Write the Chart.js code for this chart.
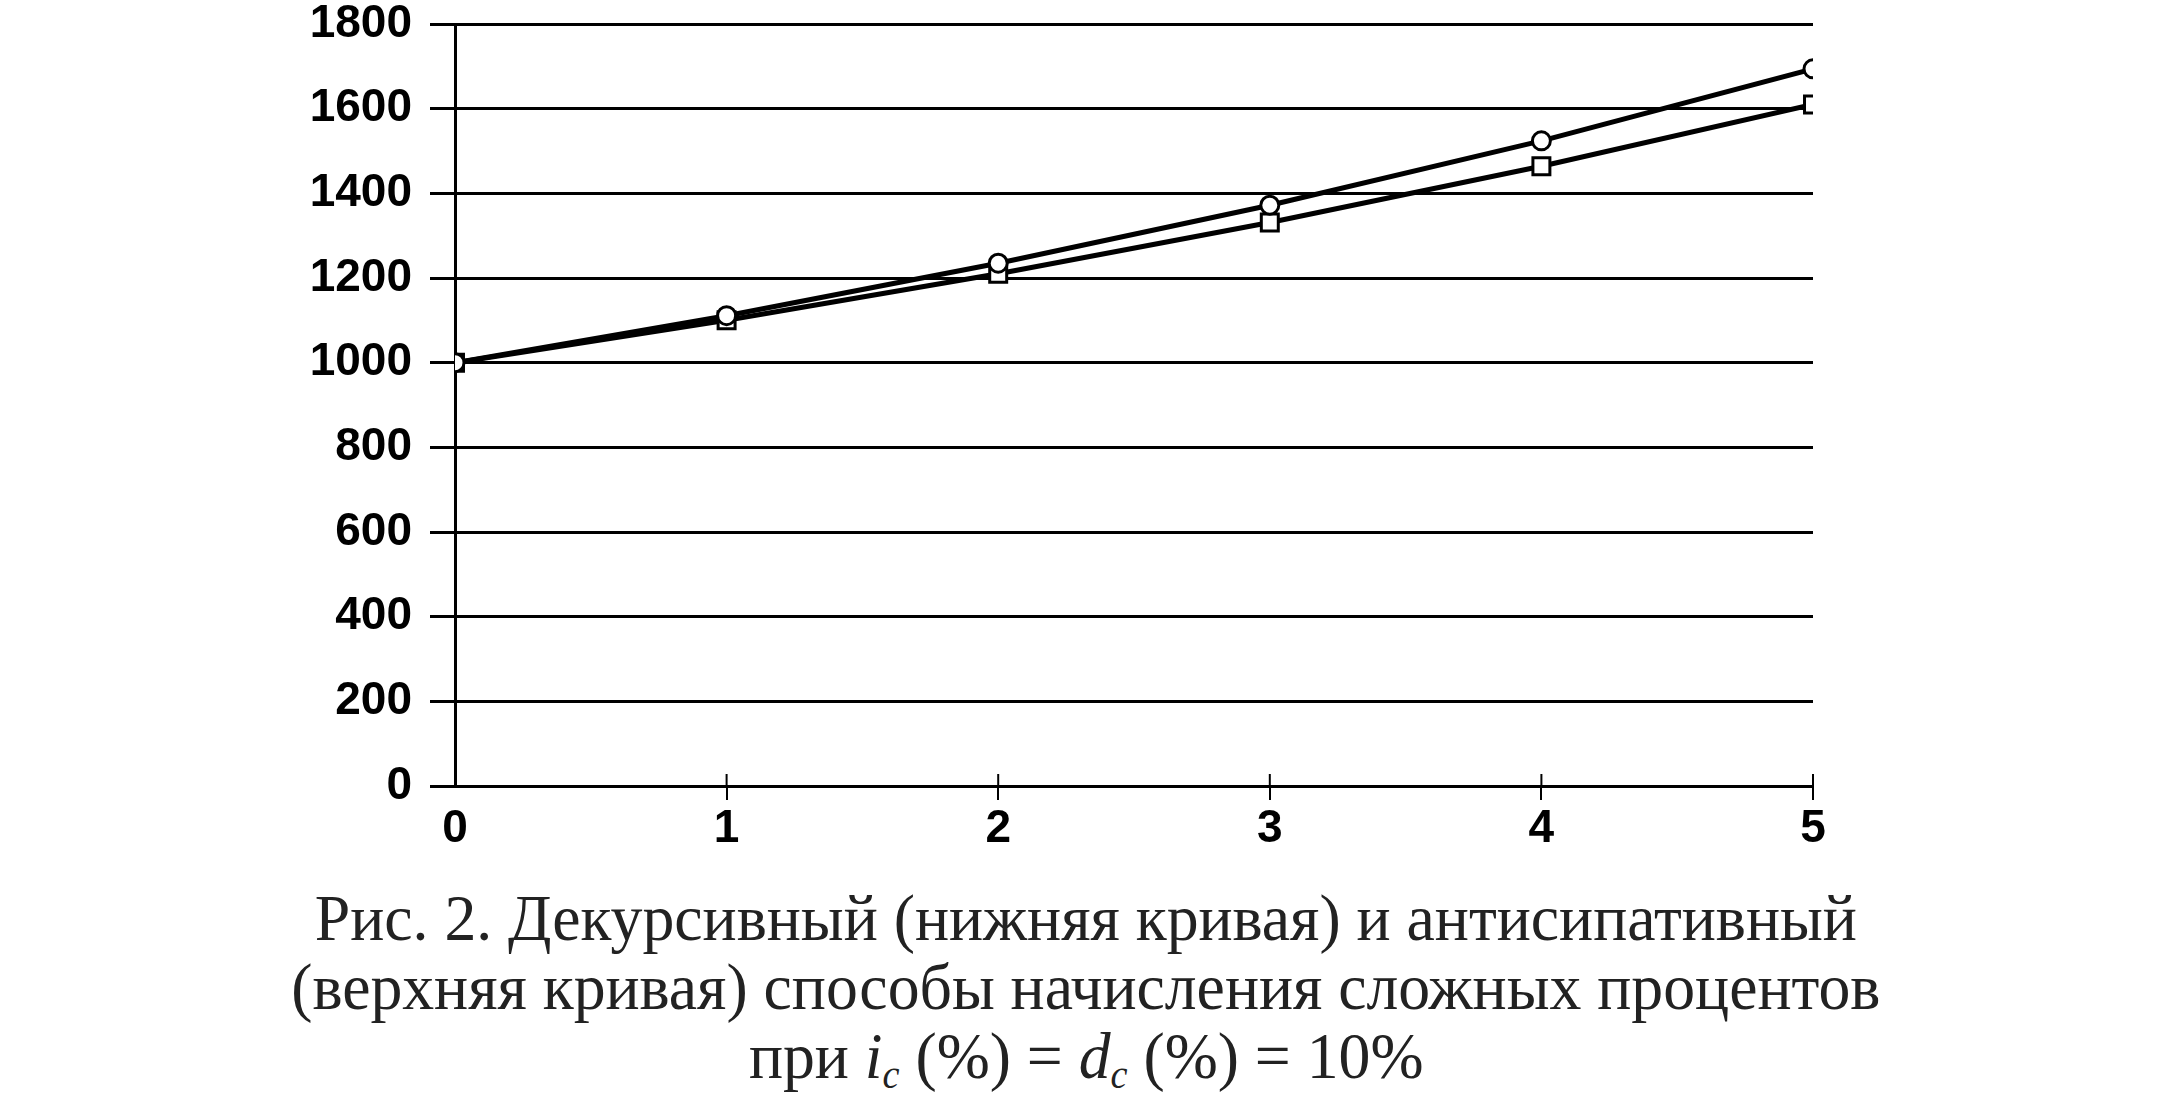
<!DOCTYPE html>
<html>
<head>
<meta charset="utf-8">
<script src="https://cdn.jsdelivr.net/npm/chart.js@4/dist/chart.umd.min.js"></script>
<style>
  body{margin:0;background:#fff;width:2170px;height:1107px;overflow:hidden;position:relative}
  #wrap{position:absolute;left:0;top:0;width:2170px;height:880px}
  #caption{position:absolute;left:0;top:884px;width:2172px;text-align:center;
    font-family:"Liberation Serif","DejaVu Serif",serif;font-size:65px;line-height:69px;color:#222}
  #caption .ln{display:inline-block;transform:scaleX(0.98);white-space:nowrap}
  sub{font-size:0.6em;vertical-align:-0.25em}
</style>
</head>
<body>
<div id="wrap"><canvas id="myChart" width="2170" height="880"></canvas></div>
<div id="caption">
  <span class="ln">Рис. 2. Декурсивный (нижняя кривая) и антисипативный</span><br>
  <span class="ln">(верхняя кривая) способы начисления сложных процентов</span><br>
  <span class="ln">при <i>i<sub>c</sub></i> (%) = <i>d<sub>c</sub></i> (%) = 10%</span>
</div>
<script>
const years = [0, 1, 2, 3, 4, 5];
const decursive = [1000, 1100, 1210, 1331, 1464, 1610];   // нижняя кривая
const anticipative = [1000, 1111, 1235, 1372, 1524, 1694]; // верхняя кривая
const yTicks = [0, 200, 400, 600, 800, 1000, 1200, 1400, 1600, 1800];

const tickFont = {family: "'Liberation Sans', Arial, sans-serif", size: 46, weight: "bold"};

// short tick marks above the x axis line too
const innerTicks = {
    id: "innerTicks",
    afterDraw(chart){
        const x = chart.scales.x, y = chart.scales.y;
        const c = chart.ctx;
        const y0 = y.getPixelForValue(0);
        c.save();
        c.strokeStyle = "#000";
        c.lineWidth = 2;
        years.slice(1).forEach(v => {
            const px = x.getPixelForValue(v);
            c.beginPath();
            c.moveTo(px, y0 - 12);
            c.lineTo(px, y0);
            c.stroke();
        });
        c.restore();
    }
};

const ctx = document.getElementById("myChart").getContext("2d");
const myChart = new Chart(ctx, {
    type: "line",
    data: {
        datasets: [{
            label: "антисипативный",
            data: years.map((t, i) => ({x: t, y: anticipative[i]})),
            borderColor: "#000",
            borderWidth: 5,
            pointStyle: "circle",
            pointRadius: 9,
            pointBorderWidth: 3,
            pointBorderColor: "#000",
            pointBackgroundColor: "#fff",
            tension: 0
        }, {
            label: "декурсивный",
            data: years.map((t, i) => ({x: t, y: decursive[i]})),
            borderColor: "#000",
            borderWidth: 5,
            pointStyle: "rect",
            pointRadius: 12,
            pointBorderWidth: 3,
            pointBorderColor: "#000",
            pointBackgroundColor: "#fff",
            tension: 0
        }]
    },
    options: {
        responsive: false,
        animation: false,
        layout: {padding: {top: 24, right: 357, left: 0, bottom: 0}},
        plugins: {
            legend: {display: false},
            tooltip: {enabled: false}
        },
        scales: {
            x: {
                type: "linear",
                min: 0, max: 5,
                afterFit: s => { s.height = 94; },
                ticks: {stepSize: 1, color: "#000", font: tickFont, padding: 2},
                grid: {
                    drawOnChartArea: false,
                    color: c => c.tick && c.tick.value === 0 ? "rgba(0,0,0,0)" : "#000",
                    lineWidth: 2, tickLength: 14
                },
                border: {display: false}
            },
            y: {
                min: 0, max: 1800,
                afterFit: s => { s.width = 455; },
                afterBuildTicks: s => { s.ticks = yTicks.map(v => ({value: v})); },
                ticks: {
                    color: "#000",
                    font: Object.assign({}, tickFont, {lineHeight: 0.2}),
                    padding: 18,
                    callback: v => String(v)
                },
                grid: {color: "#000", lineWidth: 3, tickLength: 25},
                border: {display: true, color: "#000", width: 3}
            }
        }
    },
    plugins: [innerTicks]
});
</script>
</body>
</html>
